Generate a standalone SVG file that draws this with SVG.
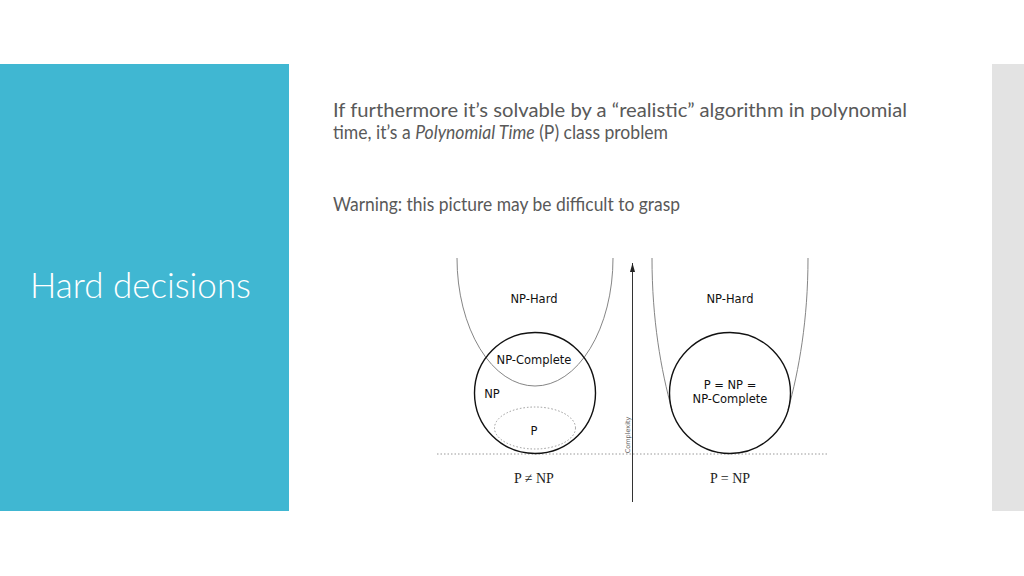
<svg xmlns="http://www.w3.org/2000/svg" width="1024" height="576" viewBox="0 0 1024 576">
<style>
.body{font-family:Lato,"Open Sans","Liberation Sans",sans-serif;font-size:19.5px;fill:#595959}
.lbl{font-family:"DejaVu Sans","Liberation Sans",sans-serif;font-size:11.5px;fill:#111;text-anchor:middle}
.ser{font-family:"Liberation Serif","DejaVu Serif",serif;font-size:14px;fill:#222;text-anchor:middle}
.thin{fill:none;stroke:#777;stroke-width:0.9}
.thick{fill:none;stroke:#111;stroke-width:1.4}
.dot{fill:none;stroke:#999;stroke-width:1;stroke-dasharray:1.5 2}
</style>
<defs>
<marker id="arr" markerWidth="9" markerHeight="6" refX="9" refY="3" orient="auto" markerUnits="userSpaceOnUse">
<path d="M0,0.5 L9,3 L0,5.5 Z" fill="#222"/>
</marker>
</defs>
<rect width="1024" height="576" fill="#fff"/>
<rect x="0" y="64" width="289" height="447" fill="#40b7d2"/>
<rect x="992" y="64" width="32" height="447" fill="#e3e3e3"/>
<text x="30" y="298" font-family="Lato,'Open Sans','Liberation Sans',sans-serif" font-weight="300" font-size="36" fill="#fff" textLength="221" lengthAdjust="spacingAndGlyphs">Hard decisions</text>
<text class="body" x="333" y="117" font-size="20" textLength="574" lengthAdjust="spacingAndGlyphs">If furthermore it’s solvable by a “realistic” algorithm in polynomial</text>
<text class="body" x="333" y="139" font-size="18.8" textLength="335" lengthAdjust="spacingAndGlyphs">time, it’s a <tspan font-style="italic">Polynomial Time</tspan> (P) class problem</text>
<text class="body" x="333" y="211" font-size="18.8" textLength="347" lengthAdjust="spacingAndGlyphs">Warning: this picture may be difficult to grasp</text>

<g id="connectors">
<line x1="437" y1="454" x2="828" y2="454" class="dot"/>
<line x1="632.5" y1="502" x2="632.5" y2="263" stroke="#333" stroke-width="1" marker-end="url(#arr)"/>
</g>

<g id="np-hard-left">
<path class="thin" d="M457,258 A78,128 0 0 0 613,258"/>
<text class="lbl" x="534" y="303">NP-Hard</text>
</g>
<g id="np-left">
<circle class="thick" cx="535" cy="393" r="60.5"/>
<text class="lbl" x="534" y="364">NP-Complete</text>
<text class="lbl" x="492" y="398">NP</text>
</g>
<g id="p-left">
<ellipse class="dot" cx="535" cy="428" rx="40.5" ry="21" stroke="#555"/>
<text class="lbl" x="534" y="435">P</text>
</g>
<text class="ser" x="534" y="483">P ≠ NP</text>

<g id="complexity-axis">
<text x="630" y="435" transform="rotate(-90 630 435)" font-family="'DejaVu Sans','Liberation Sans',sans-serif" font-size="6.5" fill="#666" text-anchor="middle">Complexity</text>
</g>

<g id="np-hard-right">
<path class="thin" d="M652,258 C652,320 661,370 672,410"/>
<path class="thin" d="M808,258 C808,320 799,370 788,410"/>
<text class="lbl" x="730" y="303">NP-Hard</text>
</g>
<g id="p-np-right">
<circle class="thick" cx="730" cy="393" r="60.5"/>
<text class="lbl" x="730" y="389">P = NP =</text>
<text class="lbl" x="730" y="403">NP-Complete</text>
</g>
<text class="ser" x="730" y="483">P = NP</text>
</svg>
